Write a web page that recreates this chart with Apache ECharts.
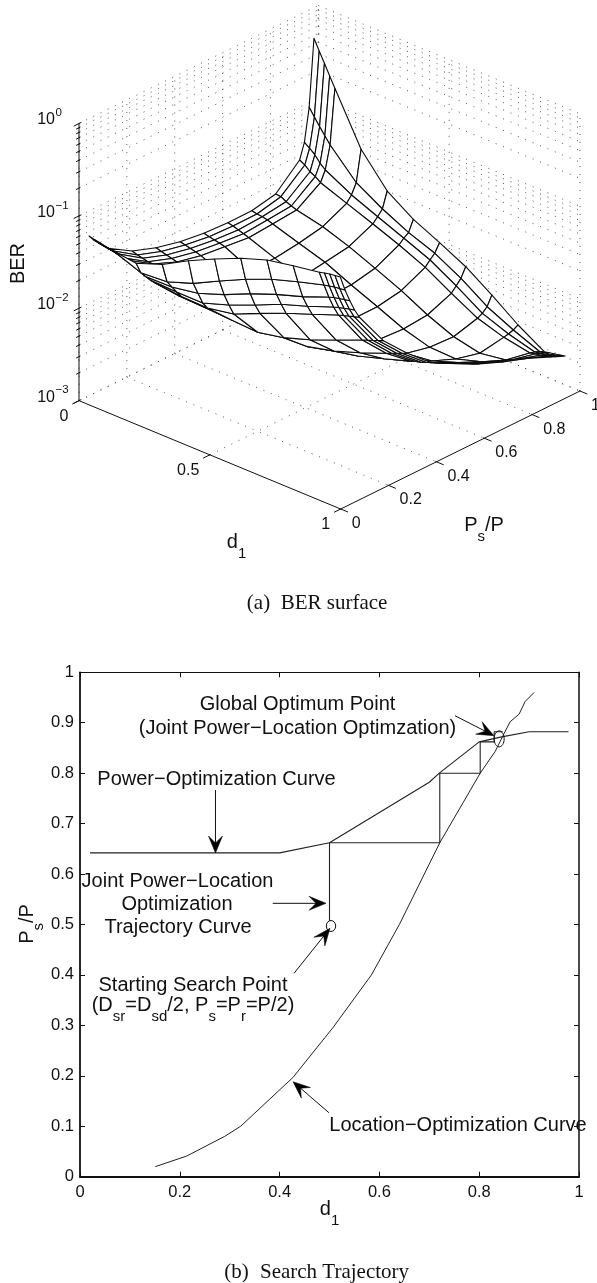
<!DOCTYPE html>
<html><head><meta charset="utf-8">
<style>html,body{margin:0;padding:0;background:#fff}#c{width:597px;height:1283px}</style>
<script src="https://cdn.jsdelivr.net/npm/echarts@6/dist/echarts.min.js"></script>
</head><body><div id="c"></div>
<script>
// ---------- Panel (a): BER surface, log10(BER) read per d1 row over Ps/P columns ----------
const d1Grid=[.02,.04,.06,.08,.1,.2,.3,.4,.5,.6,.7,.8,.9,.92,.94,.96,.98];
const psGrid=[.02,.04,.06,.08,.1,.2,.3,.4,.5,.6,.7,.8,.9,.92,.94,.96];
const logBER_d02=[-1.220,-1.288,-1.346,-1.401,-1.455,-1.612,-1.704,-1.767,-1.803,-1.816,-1.814,-1.761,-1.521,-1.355,-1.002,-0.280];
const logBER_d04=[-1.234,-1.298,-1.356,-1.408,-1.461,-1.632,-1.722,-1.779,-1.817,-1.829,-1.826,-1.767,-1.552,-1.396,-1.086,-0.394];
const logBER_d06=[-1.243,-1.306,-1.365,-1.417,-1.470,-1.644,-1.736,-1.793,-1.829,-1.848,-1.832,-1.798,-1.601,-1.445,-1.165,-0.504];
const logBER_d08=[-1.258,-1.316,-1.374,-1.432,-1.490,-1.657,-1.750,-1.808,-1.841,-1.865,-1.845,-1.821,-1.631,-1.512,-1.242,-0.618];
const logBER_d10=[-1.267,-1.325,-1.383,-1.441,-1.493,-1.659,-1.765,-1.824,-1.855,-1.885,-1.864,-1.841,-1.673,-1.561,-1.316,-0.728];
const logBER_d20=[-1.304,-1.431,-1.498,-1.561,-1.619,-1.888,-1.875,-1.948,-1.990,-1.991,-1.956,-1.904,-1.779,-1.714,-1.607,-1.271];
const logBER_d30=[-1.200,-1.412,-1.494,-1.574,-1.648,-1.897,-1.931,-2.026,-2.078,-2.083,-2.044,-2.003,-1.885,-1.832,-1.774,-1.605];
const logBER_d40=[-1.042,-1.312,-1.445,-1.576,-1.656,-1.913,-1.998,-2.082,-2.145,-2.175,-2.173,-2.120,-1.995,-1.948,-1.913,-1.794];
const logBER_d50=[-0.906,-1.170,-1.343,-1.480,-1.603,-1.929,-2.108,-2.192,-2.244,-2.293,-2.291,-2.245,-2.120,-2.066,-2.019,-1.930];
const logBER_d60=[-0.781,-1.034,-1.215,-1.363,-1.479,-1.870,-2.095,-2.266,-2.332,-2.398,-2.415,-2.391,-2.284,-2.230,-2.173,-2.073];
const logBER_d70=[-0.682,-0.917,-1.105,-1.238,-1.361,-1.775,-2.025,-2.207,-2.323,-2.435,-2.496,-2.509,-2.437,-2.409,-2.363,-2.262];
const logBER_d80=[-0.627,-0.826,-1.013,-1.143,-1.255,-1.661,-1.926,-2.119,-2.271,-2.399,-2.505,-2.571,-2.526,-2.515,-2.498,-2.469];
const logBER_d90=[-0.581,-0.744,-0.899,-1.033,-1.145,-1.544,-1.815,-2.026,-2.170,-2.298,-2.417,-2.526,-2.578,-2.593,-2.613,-2.641];
const logBER_d92=[-0.565,-0.731,-0.881,-1.015,-1.127,-1.520,-1.792,-2.008,-2.152,-2.280,-2.397,-2.503,-2.566,-2.584,-2.606,-2.628];
const logBER_d94=[-0.552,-0.719,-0.869,-1.000,-1.109,-1.499,-1.768,-1.990,-2.132,-2.262,-2.373,-2.474,-2.556,-2.578,-2.601,-2.619];
const logBER_d96=[-0.545,-0.712,-0.856,-0.985,-1.093,-1.479,-1.745,-1.970,-2.110,-2.242,-2.350,-2.445,-2.543,-2.566,-2.586,-2.606];
const logBER_d98=[-0.538,-0.704,-0.846,-0.972,-1.076,-1.457,-1.721,-1.951,-2.087,-2.220,-2.326,-2.416,-2.528,-2.551,-2.572,-2.594];
const logBER=[logBER_d02,logBER_d04,logBER_d06,logBER_d08,logBER_d10,logBER_d20,logBER_d30,logBER_d40,logBER_d50,logBER_d60,logBER_d70,logBER_d80,logBER_d90,logBER_d92,logBER_d94,logBER_d96,logBER_d98];
const d1Ticks=[0,.5,1];
const psTicks=[0,.2,.4,.6,.8,1];
const decades=[-3,-2,-1,0];
const minorMult=[2,3,4,5,6,7,8,9];

// ---------- Panel (b): search trajectory ----------
const powerCurve=[[.02,.642],[.4,.642],[.5,.662],[.7,.782],[.72,.8],[.8,.862],[.845,.872],[.9,.882],[.979,.882]];
const locationCurve=[[.151,.02],[.214,.041],[.29,.08],[.322,.1],[.427,.197],[.508,.297],[.584,.4],[.64,.5],[.721,.662],[.802,.8],[.832,.843],[.85,.879],[.862,.902],[.88,.917],[.892,.942],[.91,.96]];
const trajectory=[[.5,.5],[.5,.662],[.721,.662],[.721,.8],[.802,.8],[.802,.862],[.83,.862],[.83,.882],[.847,.882]];
const markers=[[.503,.497,4.7,5.5],[.84,.868,5,8]];
const arrows=[[.7515,.9139,.8297,.8743],[.2715,.7666,.2715,.6417],[.3862,.542,.493,.542],[.4289,.4032,.501,.4925],[.4988,.1269,.4269,.1883]];

// ---------- Oblique view of (d1, Ps/P, log10 BER) ----------
function view(d,p,l){return [261.7*d+239.3*p,108.3*d-118*p-92.4*(l+3)];}

const cells=[];
for(let i=0;i<d1Grid.length-1;i++)for(let j=psGrid.length-2;j>=0;j--)cells.push([i,j]);

const allZ=[];decades.slice(0,3).forEach(k=>minorMult.forEach(m=>allZ.push(k+Math.log10(m))));
const dots=[];
decades.concat(allZ).forEach(l=>{dots.push([0,0,l,0,1,l]);dots.push([0,1,l,1,1,l]);});
psTicks.forEach(p=>{dots.push([0,p,-3,0,p,0]);if(p>0)dots.push([0,p,-3,1,p,-3]);});
d1Ticks.forEach(d=>{dots.push([d,1,-3,d,1,0]);if(d<1)dots.push([d,0,-3,d,1,-3]);});

const solids=[[0,0,-3,0,0,0],[0,0,-3,1,0,-3],[1,0,-3,1,1,-3]];
decades.forEach(l=>solids.push([0,-.022,l,0,.01,l]));
allZ.forEach(l=>solids.push([0,-.012,l,0,.006,l]));
d1Ticks.forEach(d=>solids.push([d,-.028,-3,d,.003,-3]));
psTicks.forEach(p=>solids.push([.996,p,-3,1.028,p,-3]));

const idx=a=>a.map((_,i)=>[i,0]);
const F='"Liberation Sans",Arial,sans-serif', S='"Liberation Serif","Times New Roman",serif';
const INK='#111';
function txt(t,x,y,size,o){o=o||{};return {type:'text',x:x,y:y,rotation:o.rot||0,silent:true,z:50,
  style:{text:t,fontFamily:o.font||F,fontSize:size,fill:INK,textAlign:o.align||'center',textVerticalAlign:'middle',textBaseline:'middle',rich:o.rich}};}
const subRich={a:{fontFamily:F,fontSize:20,fill:INK,lineHeight:38},s:{fontFamily:F,fontSize:15,fill:INK,verticalAlign:'bottom',lineHeight:15}};

const option={animation:false,backgroundColor:'#fff',
 grid:[{left:79,top:0,width:518,height:530.7,show:false},{left:80,top:672.3,width:499,height:504.4,show:false}],
 xAxis:[
  {gridIndex:0,type:'value',min:0,max:518,show:false},
  {gridIndex:1,type:'value',min:0,max:1,interval:.2,position:'bottom',splitLine:{show:false},
   axisLine:{onZero:false,lineStyle:{color:INK,width:1.8}},axisTick:{inside:true,length:5,lineStyle:{color:INK,width:1}},
   axisLabel:{color:INK,fontFamily:F,fontSize:16.5,margin:7,hideOverlap:false}},
  {gridIndex:1,type:'value',min:0,max:1,interval:.2,position:'top',splitLine:{show:false},
   axisLine:{onZero:false,lineStyle:{color:INK,width:1}},axisTick:{inside:true,length:5,lineStyle:{color:INK,width:1}},axisLabel:{show:false}}],
 yAxis:[
  {gridIndex:0,type:'value',min:-400.7,max:130,inverse:true,show:false},
  {gridIndex:1,type:'value',min:0,max:1,interval:.1,position:'left',splitLine:{show:false},
   axisLine:{onZero:false,lineStyle:{color:INK,width:1.8}},axisTick:{inside:true,length:5,lineStyle:{color:INK,width:1}},
   axisLabel:{color:INK,fontFamily:F,fontSize:16.5,margin:6,hideOverlap:false}},
  {gridIndex:1,type:'value',min:0,max:1,interval:.1,position:'right',splitLine:{show:false},
   axisLine:{onZero:false,lineStyle:{color:INK,width:1.5}},axisTick:{inside:true,length:5,lineStyle:{color:INK,width:1}},axisLabel:{show:false}}],
 series:[
  {type:'custom',name:'grid dots',xAxisIndex:0,yAxisIndex:0,clip:false,silent:true,z:1,progressive:0,data:idx(dots),
   renderItem(par,api){const s=dots[par.dataIndex],a=api.coord(view(s[0],s[1],s[2])),b=api.coord(view(s[3],s[4],s[5]));
    return {type:'line',shape:{x1:a[0],y1:a[1],x2:b[0],y2:b[1]},style:{stroke:'#444',lineWidth:.9,lineDash:[1,7],fill:null}};}},
  {type:'custom',name:'BER surface',xAxisIndex:0,yAxisIndex:0,clip:false,silent:true,z:2,progressive:0,data:idx(cells),
   renderItem(par,api){const c=cells[par.dataIndex],i=c[0],j=c[1];
    const pts=[[i,j],[i+1,j],[i+1,j+1],[i,j+1]].map(q=>api.coord(view(d1Grid[q[0]],psGrid[q[1]],logBER[q[0]][q[1]])));
    return {type:'polygon',z2:par.dataIndex,shape:{points:pts},style:{fill:'#fff',stroke:'#0a0a0a',lineWidth:1.1,lineJoin:'round'}};}},
  {type:'custom',name:'3D axes',xAxisIndex:0,yAxisIndex:0,clip:false,silent:true,z:3,progressive:0,data:idx(solids),
   renderItem(par,api){const s=solids[par.dataIndex],a=api.coord(view(s[0],s[1],s[2])),b=api.coord(view(s[3],s[4],s[5]));
    return {type:'line',shape:{x1:a[0],y1:a[1],x2:b[0],y2:b[1]},style:{stroke:INK,lineWidth:1,fill:null}};}},
  {type:'custom',name:'d1 ticks',xAxisIndex:0,yAxisIndex:0,clip:false,silent:true,z:4,data:idx(d1Ticks),
   renderItem(par,api){const v=d1Ticks[par.dataIndex],a=api.coord(view(v,0,-3));
    return {type:'text',x:a[0]-10.5,y:a[1]+16,style:{text:String(v),fontFamily:F,fontSize:16,fill:INK,textAlign:'right',textVerticalAlign:'middle'}};}},
  {type:'custom',name:'Ps ticks',xAxisIndex:0,yAxisIndex:0,clip:false,silent:true,z:4,data:idx(psTicks),
   renderItem(par,api){const v=psTicks[par.dataIndex],a=api.coord(view(1,v,-3));
    return {type:'text',x:a[0]+11,y:a[1]+14.5,style:{text:String(v),fontFamily:F,fontSize:16,fill:INK,textAlign:'left',textVerticalAlign:'middle'}};}},
  {type:'custom',name:'BER ticks',xAxisIndex:0,yAxisIndex:0,clip:false,silent:true,z:4,data:idx(decades),
   renderItem(par,api){const v=decades[par.dataIndex],a=api.coord(view(0,0,v));
    return {type:'group',children:[
     {type:'text',x:55,y:a[1]-3.5,style:{text:'10',fontFamily:F,fontSize:16,fill:INK,textAlign:'right',textVerticalAlign:'middle'}},
     {type:'text',x:55.5,y:a[1]-10.5,style:{text:v===0?'0':'\u2212'+(-v),fontFamily:F,fontSize:11.5,fill:INK,textAlign:'left',textVerticalAlign:'middle'}}]};}},
  {type:'line',name:'Power-Optimization Curve',xAxisIndex:1,yAxisIndex:1,data:powerCurve,showSymbol:false,silent:true,z:5,lineStyle:{color:'#222',width:1.1}},
  {type:'line',name:'Location-Optimization Curve',xAxisIndex:1,yAxisIndex:1,data:locationCurve,showSymbol:false,silent:true,z:5,lineStyle:{color:'#222',width:1}},
  {type:'line',name:'Joint Trajectory',xAxisIndex:1,yAxisIndex:1,data:trajectory,showSymbol:false,silent:true,z:5,lineStyle:{color:'#222',width:1.1}},
  {type:'custom',name:'markers',xAxisIndex:1,yAxisIndex:1,clip:false,silent:true,z:6,data:idx(markers),
   renderItem(par,api){const m=markers[par.dataIndex],a=api.coord([m[0],m[1]]);
    return {type:'ellipse',shape:{cx:a[0],cy:a[1],rx:m[2],ry:m[3]},style:{fill:par.dataIndex===0?'#fff':'rgba(255,255,255,0)',stroke:INK,lineWidth:1}};}},
  {type:'custom',name:'arrows',xAxisIndex:1,yAxisIndex:1,clip:false,silent:true,z:7,data:idx(arrows),
   renderItem(par,api){const r=arrows[par.dataIndex],t=api.coord([r[0],r[1]]),h=api.coord([r[2],r[3]]);
    const dx=h[0]-t[0],dy=h[1]-t[1],n=Math.hypot(dx,dy),ux=dx/n,uy=dy/n,px=-uy,py=ux,L=17,W=7,N=10;
    return {type:'group',children:[
     {type:'line',shape:{x1:t[0],y1:t[1],x2:h[0]-ux*8,y2:h[1]-uy*8},style:{stroke:INK,lineWidth:1,fill:null}},
     {type:'polygon',shape:{points:[h,[h[0]-ux*L+px*W,h[1]-uy*L+py*W],[h[0]-ux*N,h[1]-uy*N],[h[0]-ux*L-px*W,h[1]-uy*L-py*W]]},style:{fill:'#000',stroke:'#000',lineWidth:.5}}]};}}
 ],
 graphic:{elements:[
  txt('BER',18.5,263.5,20,{rot:Math.PI/2}),
  txt('{a|d}{s|1}',236.5,542.5,20,{rich:subRich}),
  txt('{a|P}{s|s}{a|/P}',484,525,20,{rich:subRich}),
  txt('(a)',258.5,603,21,{font:S}),
  txt('BER surface',334,603,21,{font:S}),
  txt('(b)',236.5,1272,21,{font:S}),
  txt('Search Trajectory',334.5,1272,21,{font:S}),
  txt('Global Optimum Point',297.5,704.5,20),
  txt('(Joint Power\u2212Location Optimzation)',297.5,728.5,20),
  txt('Power\u2212Optimization Curve',216.5,779.5,20),
  txt('Joint Power\u2212Location',177.5,881,20),
  txt('Optimization',177,904.5,20),
  txt('Trajectory Curve',178,927.5,20),
  txt('Starting Search Point',193,985.5,20),
  txt('{a|(D}{s|sr}{a|=D}{s|sd}{a|/2, P}{s|s}{a|=P}{s|r}{a|=P/2)}',193,1005,20,{rich:subRich}),
  txt('Location\u2212Optimization Curve',458,1125.5,20),
  txt('{a|d}{s|1}',329.5,1209.5,20,{rich:subRich}),
  txt('{a|P}{s|s}{a|/P}',27,924,20,{rot:Math.PI/2,rich:subRich})
 ]}
};
const chart=echarts.init(document.getElementById('c'),null,{renderer:'canvas'});
chart.setOption(option);
</script></body></html>
